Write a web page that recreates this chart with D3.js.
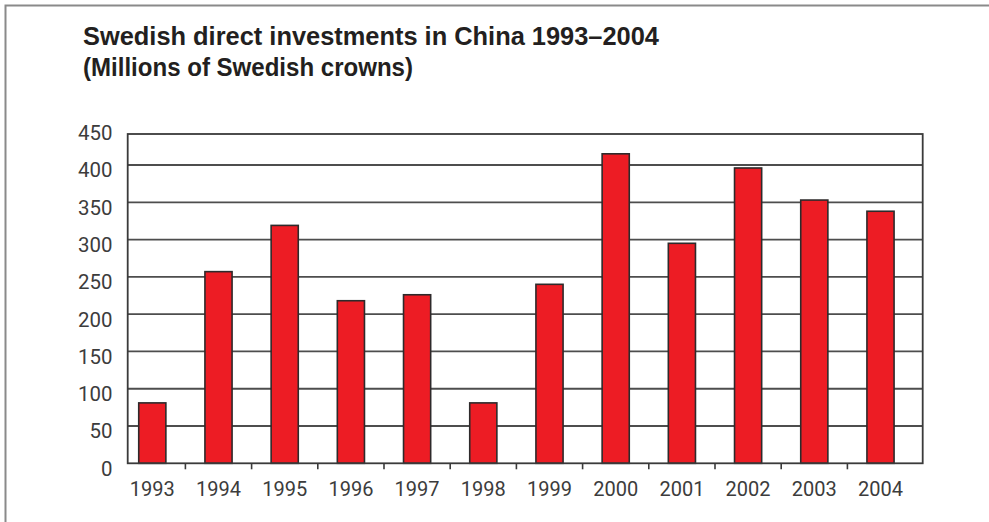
<!DOCTYPE html>
<html>
<head>
<meta charset="utf-8">
<script src="https://cdn.jsdelivr.net/npm/d3@7"></script>
<style>
  html, body { margin: 0; padding: 0; background: #fff; }
  svg { display: block; }
</style>
</head>
<body>
<svg id="chart" width="989" height="522"></svg>
<script>
// Swedish direct investments in China, millions of SEK
const years = ["1993", "1994", "1995", "1996", "1997", "1998",
               "1999", "2000", "2001", "2002", "2003", "2004"];
const investments = [81, 257, 319, 218, 226, 81, 240, 415, 295, 396, 353, 338];
const yTicks = [0, 50, 100, 150, 200, 250, 300, 350, 400, 450];
const titleLines = ["Swedish direct investments in China 1993\u20132004",
                    "(Millions of Swedish crowns)"];

const svg = d3.select("#chart");

// outer frame (top and left rules)
svg.append("path")
  .attr("d", "M5.5,522 V5.5 H989")
  .attr("fill", "none")
  .attr("stroke", "#8a8a8a")
  .attr("stroke-width", 2);

// title, condensed bold
const title = svg.append("g").attr("font-family", "'Liberation Sans Narrow', 'Arial Narrow', 'Liberation Sans', sans-serif")
  .attr("font-weight", "bold").attr("fill", "#231f20").attr("font-size", 25.5);
title.append("text").attr("x", 83).attr("y", 44.5).text(titleLines[0])
  .attr("textLength", 576).attr("lengthAdjust", "spacingAndGlyphs");
title.append("text").attr("x", 83).attr("y", 75.5).text(titleLines[1])
  .attr("textLength", 330).attr("lengthAdjust", "spacingAndGlyphs");

// plot geometry
const plotLeft = 127.7, plotRight = 922.7, plotTop = 134, plotBottom = 463.3;

const y = d3.scaleLinear().domain([0, 400]).range([plotBottom, 165]);
const x = d3.scaleBand().domain(years).range([119.2, 913.6])
  .paddingInner(0.59).paddingOuter(0.295);

// horizontal grid lines
svg.append("g")
  .selectAll("line")
  .data(yTicks.filter(d => d > 0 && y(d) > plotTop + 2))
  .join("line")
  .attr("x1", plotLeft).attr("x2", plotRight)
  .attr("y1", d => y(d)).attr("y2", d => y(d))
  .attr("stroke", "#4d4d4d")
  .attr("stroke-width", 1.8);

// bars
svg.append("g")
  .selectAll("rect")
  .data(years.map((yr, i) => ({ yr, v: investments[i] })))
  .join("rect")
  .attr("x", d => x(d.yr))
  .attr("width", x.bandwidth())
  .attr("y", d => y(d.v))
  .attr("height", d => plotBottom - y(d.v))
  .attr("fill", "#ed1c24")
  .attr("stroke", "#2e2a2b")
  .attr("stroke-width", 1.6);

// plot frame
svg.append("rect")
  .attr("x", plotLeft).attr("y", plotTop)
  .attr("width", plotRight - plotLeft).attr("height", plotBottom - plotTop)
  .attr("fill", "none")
  .attr("stroke", "#3a3a3a")
  .attr("stroke-width", 1.8);

// x ticks between categories
const step = x.step();
svg.append("g")
  .selectAll("line")
  .data(years.slice(0, -1))
  .join("line")
  .attr("x1", d => x(d) + x.bandwidth() / 2 + step / 2)
  .attr("x2", d => x(d) + x.bandwidth() / 2 + step / 2)
  .attr("y1", plotBottom).attr("y2", plotBottom + 6)
  .attr("stroke", "#3a3a3a")
  .attr("stroke-width", 1.6);

const labelFont = "Roboto, 'Liberation Sans', sans-serif";

// y labels
svg.append("g")
  .selectAll("text")
  .data(yTicks)
  .join("text")
  .attr("x", 112.5)
  .attr("y", d => y(d) + 5)
  .attr("dy", "0.35em")
  .attr("text-anchor", "end")
  .attr("font-family", labelFont)
  .attr("font-size", 21)
  .attr("fill", "#3c3c3c")
  .attr("textLength", d => String(d).length * 11.5)
  .attr("lengthAdjust", "spacingAndGlyphs")
  .text(d => d);

// x labels
svg.append("g")
  .selectAll("text")
  .data(years)
  .join("text")
  .attr("x", d => x(d) + x.bandwidth() / 2 - 22.5)
  .attr("y", 495.5)
  .attr("font-family", labelFont)
  .attr("font-size", 21)
  .attr("fill", "#3c3c3c")
  .attr("textLength", 45)
  .attr("lengthAdjust", "spacingAndGlyphs")
  .text(d => d);
</script>
</body>
</html>
